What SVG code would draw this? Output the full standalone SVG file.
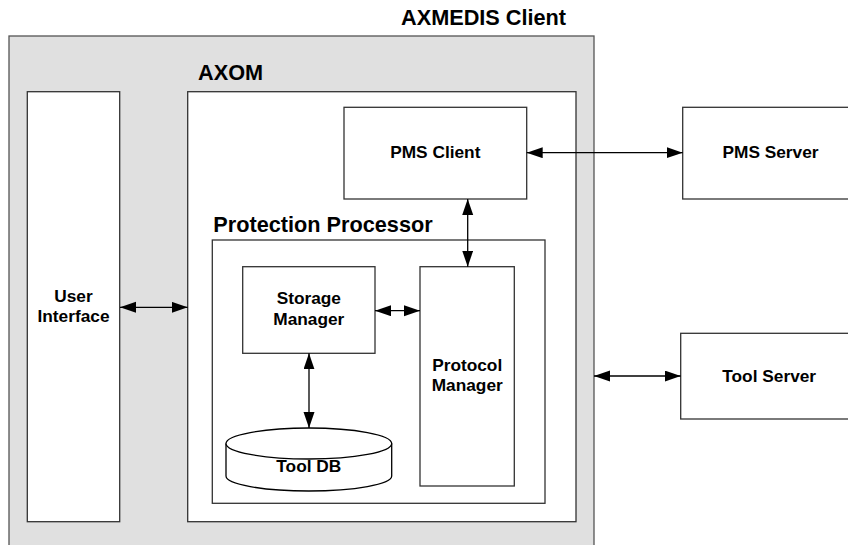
<svg xmlns="http://www.w3.org/2000/svg" width="848" height="545" viewBox="0 0 848 545">
<style>
.box{fill:#fff;stroke:#333;stroke-width:1.3}
.title{font-family:"Liberation Sans",Arial,sans-serif;font-weight:bold;font-size:21.7px;fill:#000}
.lbl{font-family:"Liberation Sans",Arial,sans-serif;font-weight:bold;font-size:17.3px;fill:#000;text-anchor:middle}
.conn{stroke:#000;stroke-width:1.3;fill:none;marker-start:url(#ah);marker-end:url(#ah)}
</style>
<defs>
<marker id="ah" markerUnits="userSpaceOnUse" markerWidth="17" markerHeight="12" refX="16" refY="5.5" orient="auto-start-reverse">
<path d="M0,0 L16,5.5 L0,11 z" fill="#000"/>
</marker>
</defs>
<rect width="848" height="545" fill="#fff"/>
<g id="axmedis-client">
<rect x="9" y="36" width="585" height="520" fill="#e0e0e0" stroke="#555" stroke-width="1.3"/>
<text class="title" x="401" y="25">AXMEDIS Client</text>
</g>
<g id="user-interface">
<rect class="box" x="27.3" y="91.7" width="92.4" height="430"/>
<text class="lbl" x="73.5" y="301.7">User</text>
<text class="lbl" x="73.5" y="322.3">Interface</text>
</g>
<g id="axom">
<rect class="box" x="187.7" y="91.7" width="388.3" height="430"/>
<text class="title" x="198" y="80">AXOM</text>
</g>
<g id="pms-client">
<rect class="box" x="344" y="107.3" width="182.7" height="91.7"/>
<text class="lbl" x="435.3" y="158.3">PMS Client</text>
</g>
<g id="protection-processor">
<rect class="box" x="212.3" y="240" width="332.7" height="263.3"/>
<text class="title" x="213.3" y="231.7">Protection Processor</text>
</g>
<g id="storage-manager">
<rect class="box" x="242.7" y="266.7" width="132.3" height="86.6"/>
<text class="lbl" x="308.8" y="304.3">Storage</text>
<text class="lbl" x="308.8" y="325">Manager</text>
</g>
<g id="protocol-manager">
<rect class="box" x="420" y="266.7" width="94.3" height="219.3"/>
<text class="lbl" x="467.2" y="371">Protocol</text>
<text class="lbl" x="467.2" y="391">Manager</text>
</g>
<g id="tool-db">
<path d="M226,443.5 L226,476 A82.85,15 0 0 0 391.7,476 L391.7,443.5" fill="#fff" stroke="#000" stroke-width="1.3"/>
<ellipse cx="308.85" cy="443.5" rx="82.85" ry="15.5" fill="#fff" stroke="#000" stroke-width="1.3"/>
<text class="lbl" x="308.8" y="471.7">Tool DB</text>
</g>
<g id="pms-server">
<rect class="box" x="682.7" y="107.3" width="176" height="91.7"/>
<text class="lbl" x="770.5" y="158.3">PMS Server</text>
</g>
<g id="tool-server">
<rect class="box" x="680.7" y="333.3" width="178" height="85.7"/>
<text class="lbl" x="769.2" y="381.7">Tool Server</text>
</g>
<g id="connectors">
<line class="conn" x1="120" y1="307.3" x2="187.7" y2="307.3"/>
<line class="conn" x1="375" y1="310.7" x2="420" y2="310.7"/>
<line class="conn" x1="309" y1="353.3" x2="309" y2="428"/>
<line class="conn" x1="467.7" y1="199" x2="467.7" y2="266.7"/>
<line class="conn" x1="526.7" y1="152.7" x2="682.7" y2="152.7"/>
<line class="conn" x1="594" y1="376" x2="680.7" y2="376"/>
</g>
</svg>
